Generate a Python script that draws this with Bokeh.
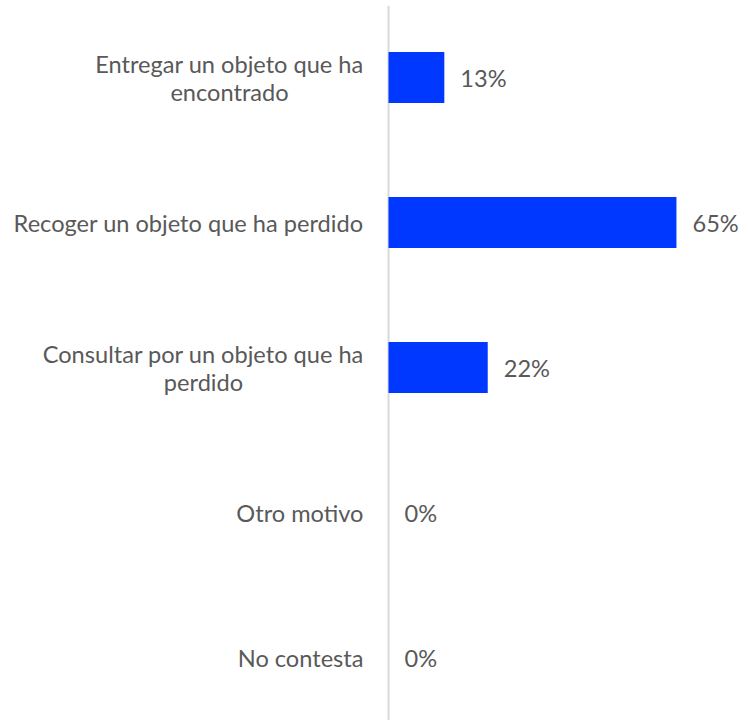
from bokeh.plotting import figure
from bokeh.models import Range1d, ColumnDataSource, Span
from bokeh.core.properties import value
from bokeh.embed import file_html
from bokeh.resources import INLINE

categories = [
    "Entregar un objeto que ha\nencontrado",
    "Recoger un objeto que ha perdido",
    "Consultar por un objeto que ha\nperdido",
    "Otro motivo",
    "No contesta",
]
values = [12.6, 65.0, 22.4, 0.0, 0.0]
value_labels = ["13%", "65%", "22%", "0%", "0%"]

# layout helpers (not data): approximate widest-line widths of wrapped labels
FONT = "Lato"
FS = "23.6px"
GAP = 25
block_w = [268, 0, 320, 0, 0]
pos = list(range(len(categories)))
x0 = [0.0] * len(categories)

PX_PER_UNIT = 4.43
AXIS_X = 388
W, H = 741, 720
TOP = 5

src = ColumnDataSource(dict(y=pos, v=values, lab=value_labels))

p = figure(width=W, height=H, output_backend="svg", toolbar_location=None,
           x_range=Range1d(-AXIS_X / PX_PER_UNIT, (W - AXIS_X) / PX_PER_UNIT),
           y_range=Range1d((H - 77) / 145, (TOP - 77) / 145),
           min_border_left=0, min_border_right=0, min_border_top=TOP, min_border_bottom=0)
p.outline_line_color = None
p.grid.grid_line_color = None
p.axis.visible = False
p.background_fill_color = None

p.add_layout(Span(location=0, dimension="height", line_color="#D9D9D9",
                  line_width=2, level="underlay"))

p.hbar(y="y", right="v", left=0, height=0.352, source=src,
       fill_color="#0038FF", line_color=None)
p.text(x="v", y="y", text="lab", source=src, x_offset=16,
       text_align="left", text_baseline="middle",
       text_font=value(FONT), text_font_size=FS, text_color="#595959")

# category labels: wrapped ones are centred within a right-aligned block
for i, c in enumerate(categories):
    if "\n" in c:
        p.text(x=[x0[i]], y=[pos[i]], text=[c], x_offset=-GAP - block_w[i] / 2,
               text_align="center", text_baseline="middle", text_line_height=1.0,
               text_font=value(FONT), text_font_size=FS, text_color="#595959")
    else:
        p.text(x=[x0[i]], y=[pos[i]], text=[c], x_offset=-GAP,
               text_align="right", text_baseline="middle",
               text_font=value(FONT), text_font_size=FS, text_color="#595959")

open("out.html", "w").write(file_html(p, INLINE))
